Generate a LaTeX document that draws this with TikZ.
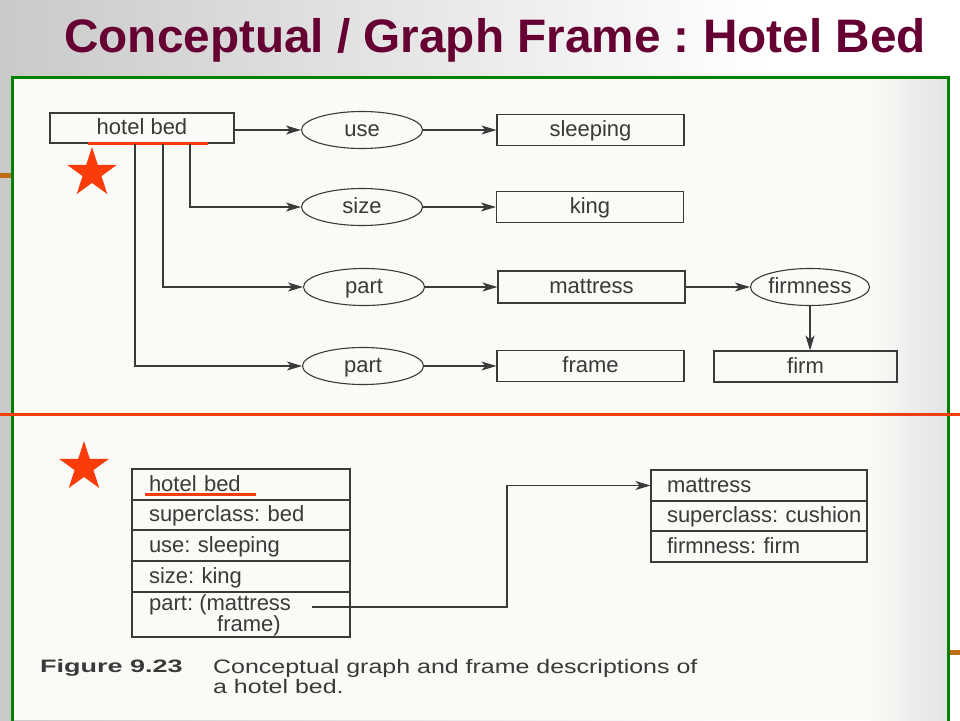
\documentclass[tikz,border=0pt]{standalone}
\usepackage{fontspec}
\setmainfont{Liberation Sans}
\usetikzlibrary{shapes.geometric,arrows.meta}
\definecolor{titlecol}{RGB}{102,0,51}
\definecolor{framegreen}{RGB}{0,128,0}
\definecolor{redline}{RGB}{250,60,10}
\definecolor{ink}{RGB}{58,58,58}
\definecolor{paper}{RGB}{250,250,247}
\definecolor{tickcol}{RGB}{190,110,20}
\definecolor{bgleft}{RGB}{168,168,168}
\pgfdeclarehorizontalshading{slidebg}{100bp}{color(0bp)=(bgleft); color(65bp)=(white); color(100bp)=(white)}
\frenchspacing
\tikzset{
  lbl/.style={font=\fontsize{22}{24}\selectfont\frenchspacing, text=ink},
  cbox/.style={draw=ink, line width=1.1pt, rectangle, inner sep=0pt, minimum width=187pt, minimum height=31pt, text height=16pt, text depth=3pt, lbl},
  rel/.style={draw=ink, line width=1.1pt, ellipse, inner sep=0pt, minimum width=121pt, minimum height=37pt, text height=16pt, text depth=3pt, lbl},
  arr/.style={draw=ink, line width=1.1pt, -{Stealth[length=15pt,width=9pt,inset=4pt]}},
  frow/.style={draw=ink, line width=1.1pt, rectangle, inner xsep=0pt, inner ysep=0pt, align=left, text height=16pt, text depth=3pt, lbl},
  frowL/.style={frow, text width=218pt, execute at begin node={\hspace*{17pt}}},
  frowR/.style={frow, text width=216pt, execute at begin node={\hspace*{16pt}}},
  redstar/.style={star, star points=5, star point ratio=2.618, fill=redline, draw=none, inner sep=0pt, minimum size=52pt},
  underl/.style={draw=redline, line width=3pt},
  plain/.style={anchor=base west, inner sep=0pt, text=ink}
}
\begin{document}
\begin{tikzpicture}[x=1pt, y=-1pt]
\useasboundingbox (0,0) rectangle (960,720);
% slide background
\shade[shading=slidebg] (0,0) rectangle (960,720);
\fill[paper] (12,77) rectangle (948,720);
\shade[left color=paper, right color=gray!22] (870,77) rectangle (947,720);
\fill[tickcol] (0,173) rectangle (11,178);
\fill[tickcol] (950,650) rectangle (960,655);
\draw[framegreen, line width=3pt] (12,722) -- (12,77) -- (948,77) -- (948,722);
\draw[redline, line width=3pt] (0,414) -- (960,414);

% title
\node[anchor=base, inner sep=0pt, text=titlecol, font=\fontsize{47}{50}\selectfont\bfseries] (title) at (495,52) {\scalebox{1.015}[1]{Conceptual / Graph Frame : Hotel Bed}};

% conceptual graph
\node[cbox, minimum width=184pt, minimum height=30pt] (hb) at (142,128) {hotel bed};
\draw[underl] (88,143) -- (208,143);
\node[redstar] (star1) at (92,173) {};

\node[rel] (use) at (362,130) {use};
\node[cbox] (sleep) at (590.5,130) {sleeping};
\node[rel] (size) at (362,207) {size};
\node[cbox] (king) at (590,207) {king};
\node[rel] (part1) at (364,287) {part};
\node[cbox, minimum height=32pt] (matt) at (591.5,287) {mattress};
\node[rel, minimum width=119pt] (firmness) at (810,287) {firmness};
\node[cbox, minimum width=183pt] (firm) at (805.5,366.5) {firm};
\node[rel] (part2) at (363,366) {part};
\node[cbox] (frame) at (590.5,366) {frame};

\draw[arr] (hb.east |- use.west) -- (use.west);
\draw[arr] ([xshift=48pt]hb.south) |- (size.west);
\draw[arr] ([xshift=21pt]hb.south) |- (part1.west);
\draw[arr] ([xshift=-7pt]hb.south) |- (part2.west);
\draw[arr] (use.east) -- (sleep.west);
\draw[arr] (size.east) -- (king.west);
\draw[arr] (part1.east) -- (matt.west);
\draw[arr] (part2.east) -- (frame.west);
\draw[arr] (matt.east) -- (firmness.west);
\draw[arr] (firmness.south) -- (firmness.south |- firm.north);

% frames
\node[redstar] (star2) at (84,467) {};
\node[frowL, minimum height=31pt] (r1) at (241,484.5) {hotel bed};
\node[frowL, minimum height=30pt] (r2) at (241,515) {superclass: bed};
\node[frowL, minimum height=31pt] (r3) at (241,545.5) {use: sleeping};
\node[frowL, minimum height=31pt] (r4) at (241,576.5) {size: king};
\node[frowL, minimum height=45pt, text height=0pt, text depth=0pt] (r5) at (241,614.5) {};
\node[plain, lbl] (pt1) at (149,610) {part: (mattress};
\node[plain, lbl] (pt2) at (217,631.5) {frame)};
\draw[underl] (145,494) -- (256,494);

\node[frowR, minimum height=31pt] (m1) at (759,485.5) {mattress};
\node[frowR, minimum height=30pt] (m2) at (759,516) {superclass: cushion};
\node[frowR, minimum height=31pt] (m3) at (759,546.5) {firmness: firm};

\coordinate (pstart) at (312,607);
\coordinate (bend) at (507,607);
\draw[arr] (pstart) -- (bend) |- (m1.west);

% caption
\node[plain, font=\fontsize{18}{20}\selectfont\bfseries] (fig) at (40,672) {\scalebox{1.5}[1]{Figure 9.23}};
\node[plain, font=\fontsize{19.5}{22}\selectfont] (cap1) at (213,673) {\scalebox{1.28}[1]{Conceptual graph and frame descriptions of}};
\node[plain, font=\fontsize{19.5}{22}\selectfont] (cap2) at (213,693) {\scalebox{1.28}[1]{a hotel bed.}};
\end{tikzpicture}
\end{document}
